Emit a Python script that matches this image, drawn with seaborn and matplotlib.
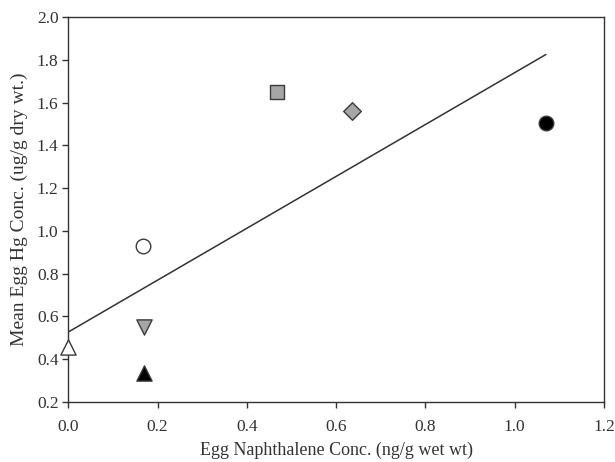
import pandas as pd
import matplotlib
matplotlib.use("Agg")
import matplotlib.pyplot as plt
import seaborn as sns

# Data
labels = ["open_tri", "black_tri", "gray_dtri", "open_circ", "gray_sq", "gray_dia", "black_circ"]
naphthalene = [0.0, 0.17, 0.17, 0.168, 0.467, 0.635, 1.07]
mercury = [0.455, 0.335, 0.55, 0.93, 1.65, 1.56, 1.505]
fills = ["white", "black", "#a6a6a6", "white", "#a6a6a6", "#a6a6a6", "black"]
markers = ["^", "^", "v", "o", "s", "D", "o"]

# regression line end points
line_x = [0.0, 1.07]
line_y = [0.527, 1.825]

sns.set_style("ticks")
plt.rcParams["font.family"] = ["Liberation Serif", "DejaVu Serif"]

df = pd.DataFrame({"site": labels, "naph": naphthalene, "hg": mercury})

fig = plt.figure(figsize=(6.15, 4.62), dpi=100)
ax = fig.add_axes([0.111, 0.13, 0.871, 0.833])

sns.lineplot(x=line_x, y=line_y, color="#333333", linewidth=1.1, ax=ax)

sizes = {"^": 120, "v": 120, "o": 110, "s": 95, "D": 80}
for i, row in df.iterrows():
    sns.scatterplot(x=[row["naph"]], y=[row["hg"]], marker=markers[i],
                    color=fills[i], edgecolor="#3a3a3a", linewidth=1.0,
                    s=sizes[markers[i]], ax=ax, zorder=3, clip_on=False)

ax.set_xlim(0, 1.2)
ax.set_ylim(0.2, 2.0)
ax.set_xticks([0.0, 0.2, 0.4, 0.6, 0.8, 1.0, 1.2])
ax.set_yticks([0.2, 0.4, 0.6, 0.8, 1.0, 1.2, 1.4, 1.6, 1.8, 2.0])
ax.xaxis.set_major_formatter(matplotlib.ticker.FormatStrFormatter("%.1f"))
ax.yaxis.set_major_formatter(matplotlib.ticker.FormatStrFormatter("%.1f"))
ax.tick_params(direction="out", length=4, width=1, colors="#333333",
               labelsize=12.5, labelcolor="#333333")
ax.tick_params(axis="x", pad=8)
ax.tick_params(axis="y", pad=3)
for sp in ax.spines.values():
    sp.set_color("#333333")
    sp.set_linewidth(1)
    sp.set_visible(True)

ax.set_xlabel("Egg Naphthalene Conc. (ng/g wet wt)", fontsize=13, color="#333333", labelpad=5)
ax.set_ylabel("Mean Egg Hg Conc. (ug/g dry wt.)", fontsize=14, color="#333333", labelpad=6)

fig.savefig("out.png", dpi=100)
